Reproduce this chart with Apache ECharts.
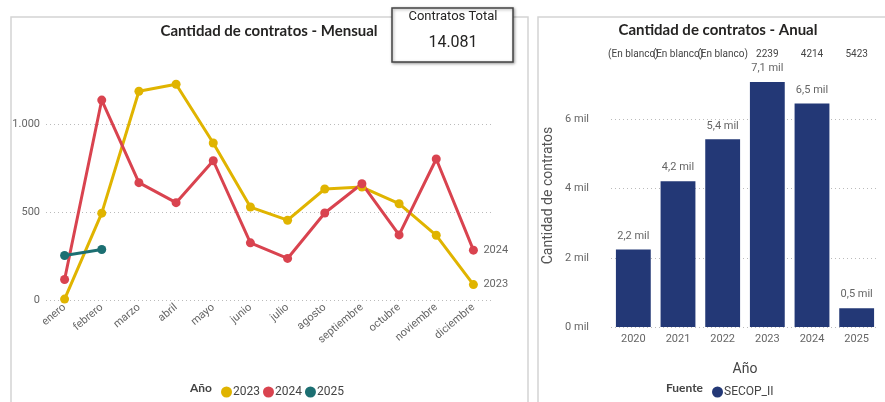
<!DOCTYPE html>
<html>
<head>
<meta charset="utf-8">
<script src="https://cdn.jsdelivr.net/npm/echarts@6/dist/echarts.min.js"></script>
<style>
  html, body { margin: 0; padding: 0; background: #fff; }
  #chart { width: 885px; height: 402px; }
</style>
</head>
<body>
<div id="chart"></div>
<script>
// meses y contratos por año (lectura del gráfico)
const meses = ['enero', 'febrero', 'marzo', 'abril', 'mayo', 'junio', 'julio', 'agosto', 'septiembre', 'octubre', 'noviembre', 'diciembre']
const valores2023 = [5, 495, 1190, 1230, 895, 530, 455, 633, 644, 549, 369, 88]
const valores2024 = [117, 1140, 669, 555, 794, 326, 237, 496, 663, 371, 804, 284]
const valores2025 = [254, 288]

// anual
const anios = ['2020', '2021', '2022', '2023', '2024', '2025']
const totalAnual = [2239, 4214, 5423, 7083, 6456, 542]
const etiquetasSuperiores = ['(En blanco)', '(En blanco)', '(En blanco)', '2239', '4214', '5423']
const totalContratos = '14.081'

const gris = '#666'
const fuente = 'Roboto, "Liberation Sans", sans-serif'

const fmtMiles = (v) => String(v).replace(/\B(?=(\d{3})+(?!\d))/g, '.')
const fmtMil = (v) => (v / 1000).toFixed(1).replace('.', ',') + ' mil'

const chart = echarts.init(document.getElementById('chart'))

const lineaSerie = (name, data, color, endLabel) => ({
  name,
  type: 'line',
  xAxisIndex: 0,
  yAxisIndex: 0,
  data,
  symbol: 'circle',
  symbolSize: 9,
  color,
  lineStyle: { width: 3, color },
  itemStyle: { color },
  endLabel: {
    show: endLabel,
    formatter: '{a}',
    color: gris,
    fontSize: 11,
    fontFamily: fuente,
    distance: 10
  },
  animation: false
})

chart.setOption({
  backgroundColor: '#fff',
  textStyle: { fontFamily: fuente },
  graphic: [
    // marcos de los paneles
    { type: 'rect', shape: { x: 11, y: 17, width: 517, height: 400 }, style: { fill: 'none', stroke: '#d4d4d4', lineWidth: 1.5 }, z: 0 },
    { type: 'rect', shape: { x: 538, y: 17, width: 360, height: 400 }, style: { fill: 'none', stroke: '#d4d4d4', lineWidth: 1.5 }, z: 0 },
    // títulos
    { type: 'text', x: 269, y: 31, style: { text: 'Cantidad de contratos - Mensual', font: 'bold 15px Lato, sans-serif', fill: '#252423', textAlign: 'center', textVerticalAlign: 'middle' } },
    { type: 'text', x: 718, y: 30, style: { text: 'Cantidad de contratos - Anual', font: 'bold 15px Lato, sans-serif', fill: '#252423', textAlign: 'center', textVerticalAlign: 'middle' } },
    // tarjeta
    { type: 'rect', shape: { x: 392, y: 8, width: 121, height: 54 }, style: { fill: '#fff', stroke: '#444', lineWidth: 1.5, shadowBlur: 3, shadowColor: 'rgba(0,0,0,0.35)', shadowOffsetX: 1, shadowOffsetY: 1 }, z: 10 },
    { type: 'text', x: 453, y: 17, style: { text: 'Contratos Total', font: '13px Roboto, sans-serif', fill: '#252423', textAlign: 'center', textVerticalAlign: 'middle' }, z: 11 },
    { type: 'text', x: 453, y: 43, style: { text: totalContratos, font: '16px Roboto, sans-serif', fill: '#252423', textAlign: 'center', textVerticalAlign: 'middle' }, z: 11 },
    // títulos de leyenda
    { type: 'text', x: 212, y: 388, style: { text: 'Año', font: 'bold 12px Lato, sans-serif', fill: '#444', textAlign: 'right', textVerticalAlign: 'middle' } },
    { type: 'text', x: 703, y: 388, style: { text: 'Fuente', font: 'bold 12px Lato, sans-serif', fill: '#444', textAlign: 'right', textVerticalAlign: 'middle' } }
  ],
  legend: [
    {
      data: ['2023', '2024', '2025'],
      left: 216,
      top: 381,
      icon: 'circle',
      itemWidth: 11,
      itemHeight: 11,
      itemGap: 3,
      textStyle: { color: '#444', fontSize: 12, padding: [0, 0, 0, -4] }
    },
    {
      data: ['SECOP_II'],
      left: 707,
      top: 381,
      icon: 'circle',
      itemWidth: 11,
      itemHeight: 11,
      textStyle: { color: '#444', fontSize: 12, padding: [0, 0, 0, -4] }
    }
  ],
  grid: [
    { left: 46, top: 72, width: 446, height: 228 },
    { left: 611, top: 64, width: 268, height: 263 }
  ],
  xAxis: [
    {
      type: 'category',
      gridIndex: 0,
      data: meses,
      axisLine: { show: false },
      axisTick: { show: false },
      axisLabel: { color: gris, fontSize: 11, rotate: 40, margin: 6, interval: 0 }
    },
    {
      type: 'category',
      gridIndex: 1,
      data: anios,
      name: 'Año',
      nameLocation: 'middle',
      nameGap: 35,
      nameTextStyle: { color: '#444', fontSize: 14 },
      axisLine: { show: false },
      axisTick: { show: false },
      axisLabel: { color: gris, fontSize: 11, margin: 7 }
    },
    {
      type: 'category',
      gridIndex: 1,
      position: 'top',
      data: etiquetasSuperiores,
      axisLine: { show: false },
      axisTick: { show: false },
      axisLabel: { color: '#444', fontSize: 10, margin: 5, interval: 0 }
    }
  ],
  yAxis: [
    {
      type: 'value',
      gridIndex: 0,
      min: 0,
      max: 1300,
      interval: 500,
      axisLabel: {
        color: gris,
        fontSize: 11,
        margin: 6,
        showMaxLabel: false,
        formatter: (v) => (v % 500 === 0 ? fmtMiles(v) : '')
      },
      splitLine: { showMaxLine: false, lineStyle: { type: [1, 3], color: '#bbb' } }
    },
    {
      type: 'value',
      gridIndex: 1,
      min: 0,
      max: 7600,
      interval: 2000,
      name: 'Cantidad de contratos',
      nameLocation: 'middle',
      nameGap: 56,
      nameTextStyle: { color: '#555', fontSize: 14 },
      axisLabel: {
        color: gris,
        fontSize: 11,
        margin: 22,
        showMaxLabel: false,
        formatter: (v) => (v % 2000 === 0 ? (v / 1000) + ' mil' : '')
      },
      splitLine: { showMaxLine: false, lineStyle: { type: [1, 3], color: '#bbb' } }
    }
  ],
  series: [
    lineaSerie('2023', valores2023, '#E0B400', true),
    lineaSerie('2024', valores2024, '#D9434F', true),
    lineaSerie('2025', valores2025, '#1C6F72', false),
    {
      name: 'SECOP_II',
      type: 'bar',
      xAxisIndex: 1,
      yAxisIndex: 1,
      data: totalAnual,
      barCategoryGap: '22%',
      itemStyle: { color: '#233876' },
      label: {
        show: true,
        position: 'top',
        distance: 8,
        color: gris,
        fontSize: 11,
        formatter: (p) => fmtMil(p.value)
      },
      animation: false
    }
  ]
})
</script>
</body>
</html>
